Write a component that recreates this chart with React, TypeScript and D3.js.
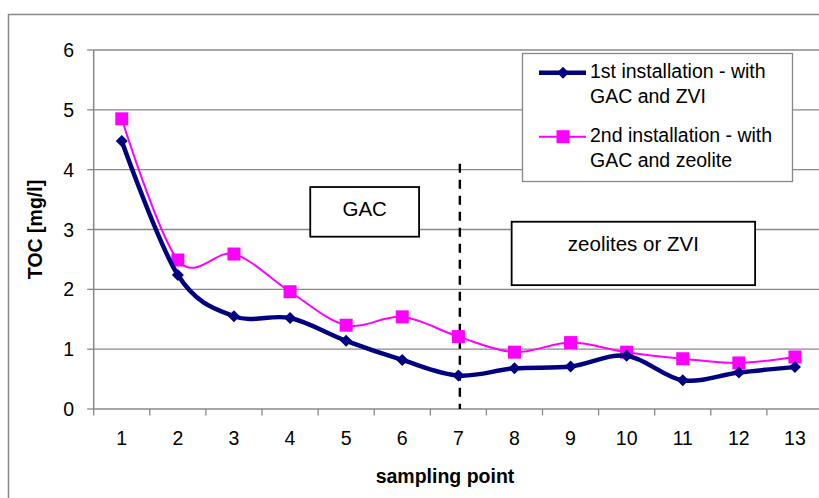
import * as d3 from 'd3';

const categories = ['1', '2', '3', '4', '5', '6', '7', '8', '9', '10', '11', '12', '13'];
const zviValues = [4.48, 2.24, 1.55, 1.52, 1.14, 0.82, 0.56, 0.68, 0.71, 0.89, 0.48, 0.61, 0.7];
const zeoliteValues = [4.85, 2.49, 2.59, 1.96, 1.4, 1.54, 1.21, 0.95, 1.11, 0.95, 0.84, 0.77, 0.87];
const yTicks = [0, 1, 2, 3, 4, 5, 6];

const seriesNames = [
  ['1st installation - with', 'GAC and ZVI'],
  ['2nd installation - with', 'GAC and zeolite'],
];

// annotation boxes in data units (category position, TOC value)
const annotations = [
  { label: 'GAC', x0: 4.36, x1: 6.3, y0: 3.71, y1: 2.88 },
  { label: 'zeolites or ZVI', x0: 7.95, x1: 12.29, y0: 3.13, y1: 2.07 },
];
const dividerCategory = 7;
const dividerTop = 4.1;

const W = 819;
const H = 498;
const FONT = '"Liberation Sans", Arial, sans-serif';
const FS = 19.5;

export default function App() {
  const left = 93.7;
  const right = 823;
  const top = 50;
  const bottom = 409;

  const x = d3.scaleBand<string>().domain(categories).range([left, right]).padding(0);
  const bw = x.bandwidth();
  const cx = (c: string) => (x(c) as number) + bw / 2;
  // continuous position: 1 = centre of first category
  const xPos = d3.scaleLinear().domain([1, 13]).range([cx('1'), cx('13')]);
  const y = d3.scaleLinear().domain([0, 6]).range([bottom, top]);

  const line = d3
    .line<number>()
    .x((_, i) => cx(categories[i]))
    .y((d) => y(d))
    .curve(d3.curveCardinal.tension(0));

  const diamond = (px: number, py: number, r: number) =>
    `M${px},${py - r}L${px + r},${py}L${px},${py + r}L${px - r},${py}Z`;

  const legendX = 539;
  const legendY = [72.7, 136.7];

  return (
    <svg
      width={W}
      height={H}
      style={{ position: 'absolute', left: 0, top: 0, background: '#fff' }}
      fontFamily={FONT}
    >
      {/* chart area border */}
      <rect x={8.5} y={14.5} width={W} height={H} fill="none" stroke="#888" strokeWidth={1.5} />

      {/* grid lines */}
      {yTicks.slice(1).map((t) => (
        <line key={t} x1={left} x2={right} y1={y(t)} y2={y(t)} stroke="#888" strokeWidth={1.3} />
      ))}

      {/* y axis */}
      <line x1={left} x2={left} y1={top} y2={bottom} stroke="#888" strokeWidth={1.5} />
      {yTicks.map((t) => (
        <g key={t}>
          <line x1={left - 6.5} x2={left} y1={y(t)} y2={y(t)} stroke="#888" strokeWidth={1.3} />
          <text x={74} y={y(t) + 7} textAnchor="end" fontSize={FS} fill="#000">
            {t}
          </text>
        </g>
      ))}

      {/* x axis */}
      <line x1={left} x2={right} y1={bottom} y2={bottom} stroke="#888" strokeWidth={1.5} />
      {categories.map((c) => (
        <g key={c}>
          <line x1={x(c)} x2={x(c)} y1={bottom} y2={bottom + 6.5} stroke="#888" strokeWidth={1.3} />
          <text x={cx(c)} y={445} textAnchor="middle" fontSize={FS} fill="#000">
            {c}
          </text>
        </g>
      ))}

      <text x={445} y={483} textAnchor="middle" fontSize={FS} fontWeight="bold" fill="#000">
        sampling point
      </text>
      <text
        transform={`translate(42,${(top + bottom) / 2}) rotate(-90)`}
        textAnchor="middle"
        fontSize={FS}
        fontWeight="bold"
        fill="#000"
      >
        TOC [mg/l]
      </text>

      {/* annotation boxes */}
      {annotations.map((a) => (
        <g key={a.label}>
          <rect
            x={xPos(a.x0)}
            y={y(a.y0)}
            width={xPos(a.x1) - xPos(a.x0)}
            height={y(a.y1) - y(a.y0)}
            fill="#fff"
            stroke="#000"
            strokeWidth={1.8}
          />
          <text
            x={(xPos(a.x0) + xPos(a.x1)) / 2}
            y={y(a.y0) + 29}
            textAnchor="middle"
            fontSize={20.5}
            fill="#000"
          >
            {a.label}
          </text>
        </g>
      ))}

      {/* divider */}
      <line
        x1={cx(String(dividerCategory)) + 1.5}
        x2={cx(String(dividerCategory)) + 1.5}
        y1={y(dividerTop)}
        y2={bottom}
        stroke="#000"
        strokeWidth={2.4}
        strokeDasharray="9,7"
      />

      {/* series 2: magenta */}
      <path d={line(zeoliteValues) || ''} fill="none" stroke="#ff00ff" strokeWidth={2} />
      {zeoliteValues.map((v, i) => (
        <rect
          key={i}
          x={cx(categories[i]) - 6.5}
          y={y(v) - 6.5}
          width={13}
          height={13}
          fill="#ff00ff"
        />
      ))}

      {/* series 1: navy */}
      <path d={line(zviValues) || ''} fill="none" stroke="#000080" strokeWidth={4.5} />
      {zviValues.map((v, i) => (
        <path key={i} d={diamond(cx(categories[i]), y(v), 6)} fill="#000080" />
      ))}

      {/* legend */}
      <rect x={522.5} y={53.5} width={270} height={128} fill="#fff" stroke="#888" strokeWidth={1.3} />
      <line x1={legendX} x2={legendX + 47} y1={legendY[0]} y2={legendY[0]} stroke="#000080" strokeWidth={4.5} />
      <path d={diamond(legendX + 24, legendY[0], 6)} fill="#000080" />
      <line x1={legendX} x2={legendX + 47} y1={legendY[1]} y2={legendY[1]} stroke="#ff00ff" strokeWidth={2} />
      <rect x={legendX + 24 - 6.5} y={legendY[1] - 6.5} width={13} height={13} fill="#ff00ff" />
      {seriesNames.map((lines, si) =>
        lines.map((t, li) => (
          <text key={`${si}-${li}`} x={590} y={legendY[si] + 5.5 + li * 25} fontSize={FS} fill="#000">
            {t}
          </text>
        ))
      )}
    </svg>
  );
}
